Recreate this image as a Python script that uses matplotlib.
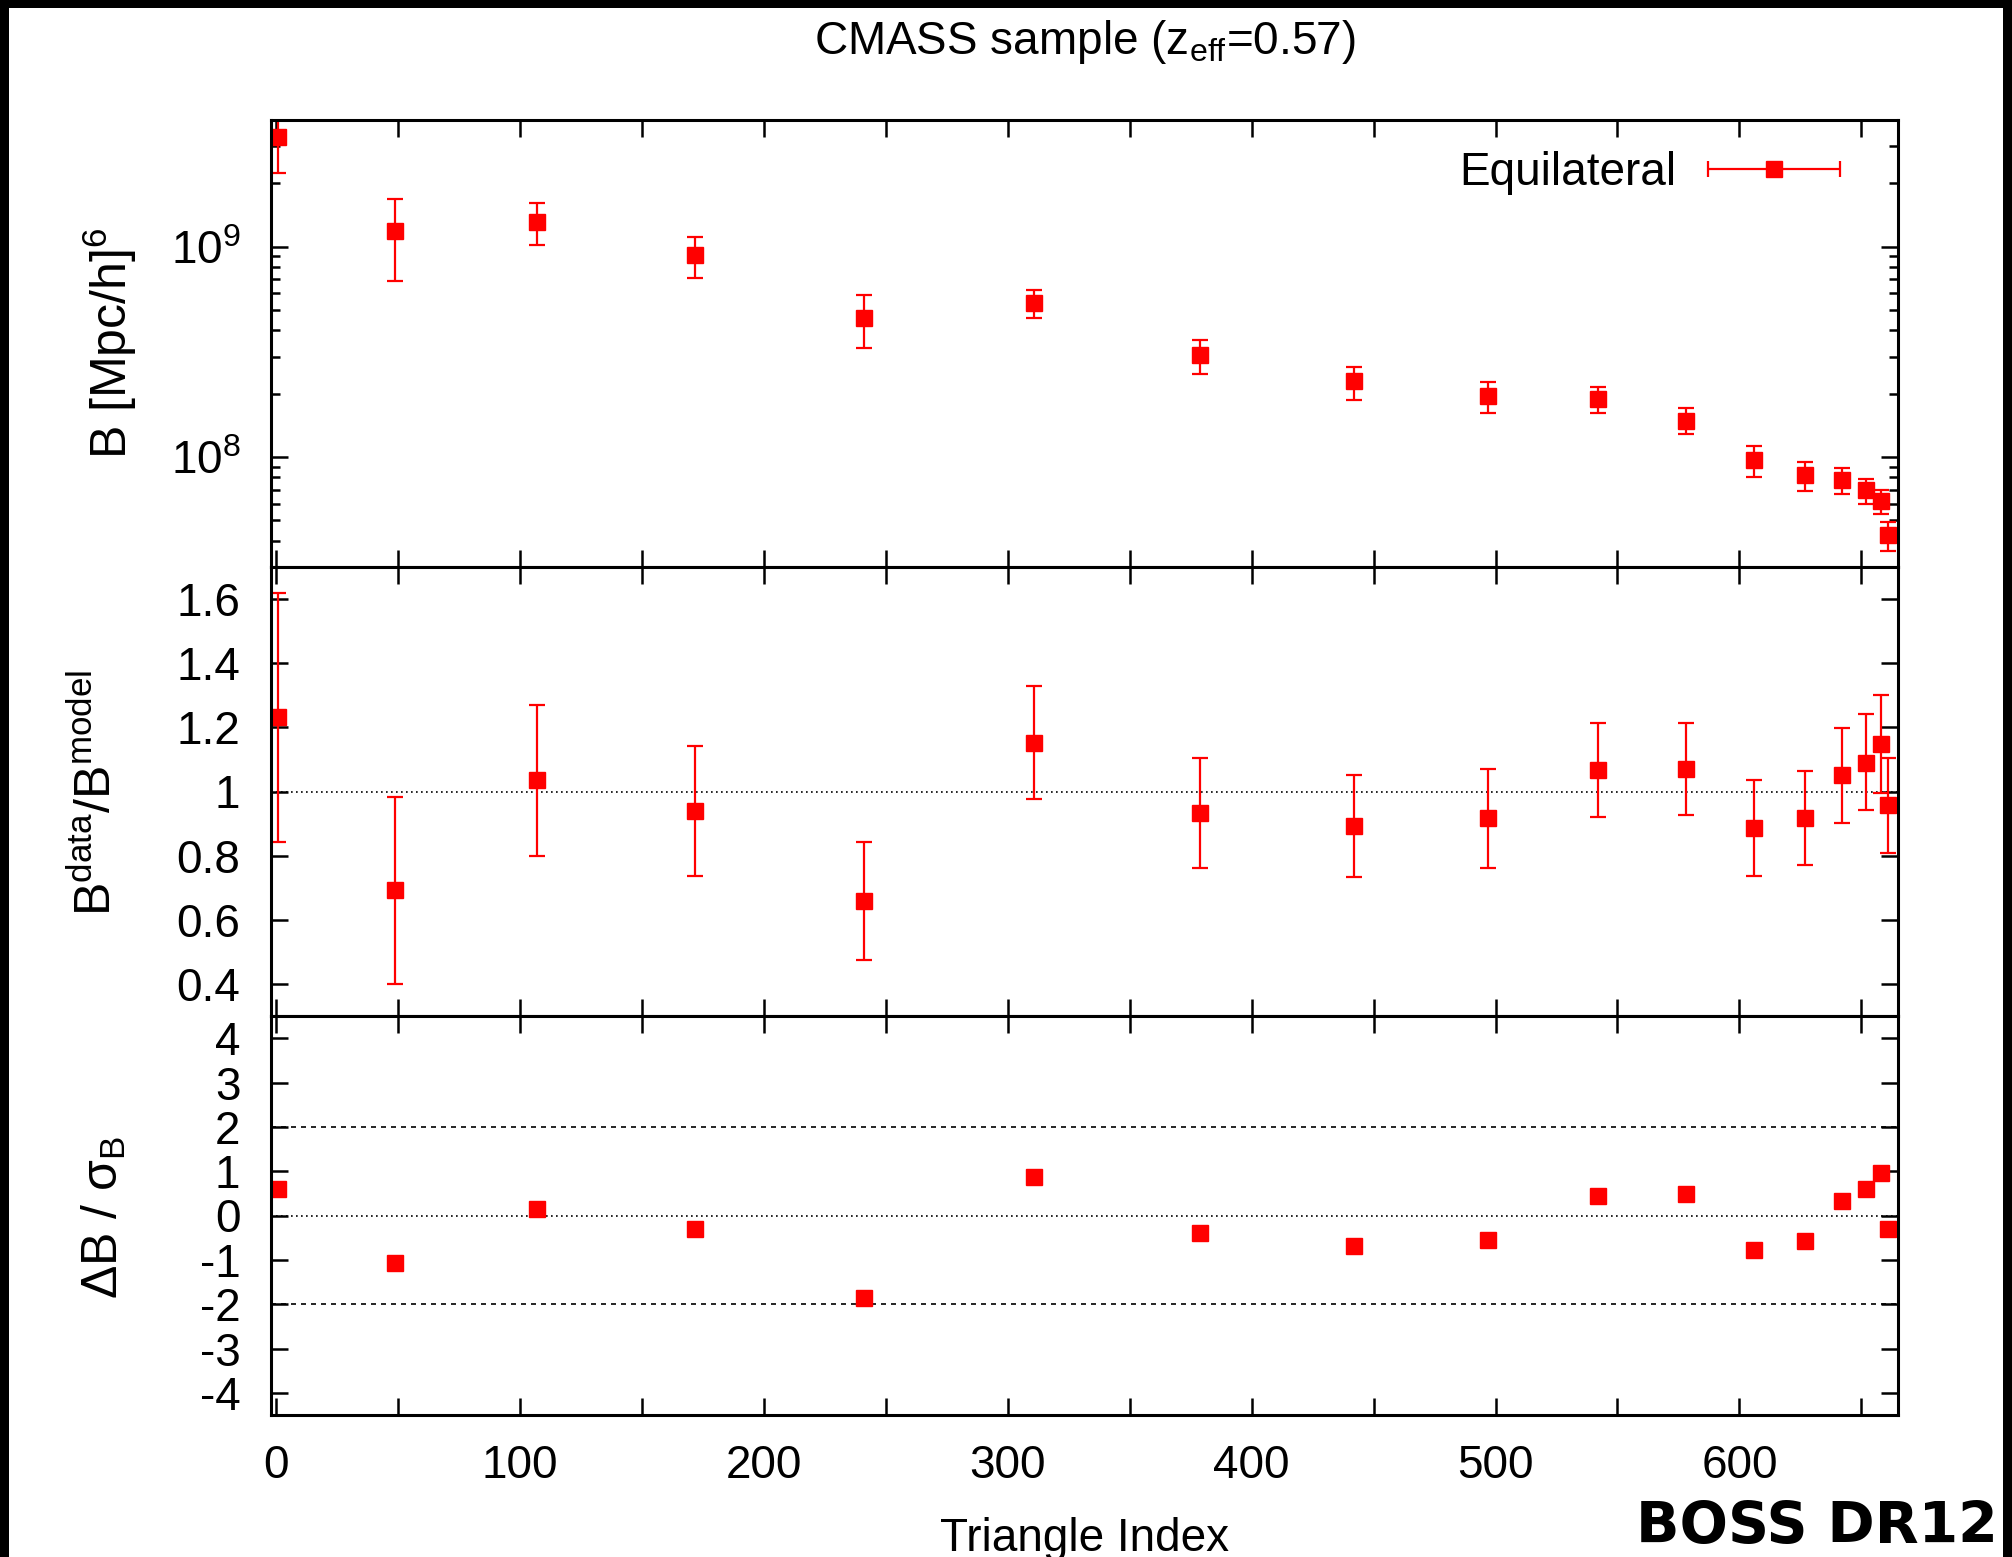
import numpy as np
import matplotlib
matplotlib.use("Agg")
import matplotlib.pyplot as plt
from matplotlib.ticker import LogLocator, NullFormatter, MultipleLocator, FuncFormatter
from matplotlib.legend_handler import HandlerErrorbar
from matplotlib.patches import Rectangle

plt.rcParams['font.family'] = ['Liberation Sans', 'DejaVu Sans']
plt.rcParams['mathtext.fontset'] = 'custom'
plt.rcParams['mathtext.rm'] = 'Liberation Sans'
plt.rcParams['mathtext.it'] = 'Liberation Sans:italic'
plt.rcParams['mathtext.bf'] = 'Liberation Sans:bold'
plt.rcParams['axes.unicode_minus'] = False

# ---------------- data ----------------
tri_index = [1, 49, 107, 172, 241, 311, 379, 442, 497, 542, 578, 606, 627, 642, 652, 658, 661]

bispec = [3.33e9, 1.19e9, 1.31e9, 9.08e8, 4.57e8, 5.39e8, 3.05e8, 2.30e8, 1.95e8,
          1.89e8, 1.49e8, 9.68e7, 8.2e7, 7.8e7, 7.0e7, 6.15e7, 4.26e7]
bispec_low = [2.25e9, 6.85e8, 1.02e9, 7.1e8, 3.30e8, 4.57e8, 2.49e8, 1.87e8, 1.62e8,
              1.62e8, 1.29e8, 8.0e7, 6.87e7, 6.7e7, 5.98e7, 5.36e7, 3.59e7]
bispec_high = [4.41e9, 1.69e9, 1.62e9, 1.11e9, 5.86e8, 6.21e8, 3.61e8, 2.69e8, 2.28e8,
               2.16e8, 1.71e8, 1.13e8, 9.5e7, 8.9e7, 7.87e7, 7.0e7, 4.89e7]

ratio = [1.233, 0.692, 1.037, 0.939, 0.660, 1.151, 0.932, 0.892, 0.917,
         1.067, 1.070, 0.885, 0.917, 1.051, 1.089, 1.148, 0.957]
ratio_low = [0.843, 0.400, 0.800, 0.735, 0.476, 0.978, 0.761, 0.732, 0.761,
             0.919, 0.926, 0.737, 0.770, 0.903, 0.942, 0.996, 0.809]
ratio_high = [1.620, 0.982, 1.271, 1.142, 0.843, 1.329, 1.105, 1.051, 1.069,
              1.213, 1.215, 1.036, 1.065, 1.197, 1.241, 1.300, 1.103]

residual = [0.60, -1.07, 0.14, -0.30, -1.86, 0.86, -0.39, -0.69, -0.55,
            0.44, 0.48, -0.77, -0.58, 0.33, 0.60, 0.96, -0.30]

series_label = "Equilateral"
title_text = "CMASS sample (z$_{\\mathregular{eff}}$=0.57)"
xlabel_text = "Triangle Index"
ylabels = ["B [Mpc/h]$^{6}$",
           "B$^{\\mathregular{data}}$/B$^{\\mathregular{model}}$",
           "\u0394B / \u03c3$_{\\mathregular{B}}$"]
brand_text = "BOSS DR12"

# ---------------- figure ----------------
W, H = 2012, 1557
fig = plt.figure(figsize=(W / 100, H / 100), dpi=100)
fig.patch.set_facecolor('white')

left = 271 / W
width = (1898 - 271) / W
ax1 = fig.add_axes([left, 1 - 567 / H, width, (567 - 120) / H])
ax2 = fig.add_axes([left, 1 - 1016 / H, width, (1016 - 567) / H])
ax3 = fig.add_axes([left, 1 - 1415 / H, width, (1415 - 1016) / H])

RED = '#ff0000'
TICKFS = 33
LABFS = 36
ebkw = dict(fmt='s', color=RED, ms=12, mec=RED, mfc=RED, elinewidth=1.6,
            capsize=6, capthick=1.6)

x = np.array(tri_index, dtype=float)

# top panel
b = np.array(bispec)
ax1.errorbar(x, b, yerr=[b - np.array(bispec_low), np.array(bispec_high) - b], **ebkw)
ax1.set_yscale('log')
ax1.set_ylim(3e7, 4e9)
ax1.yaxis.set_major_locator(LogLocator(base=10, numticks=10))
ax1.yaxis.set_minor_locator(LogLocator(base=10, subs=np.arange(2, 10), numticks=30))
ax1.yaxis.set_minor_formatter(NullFormatter())

# legend proxy (horizontal error bar key like the reference)
proxy = ax1.errorbar([np.nan], [np.nan], xerr=[1.0], label=series_label, **ebkw)
leg_fs = 33
ax1.legend(handles=[proxy], loc='center right', bbox_to_anchor=(0.9643, 0.8814),
           frameon=False, fontsize=leg_fs, markerfirst=False, numpoints=1,
           borderpad=0, borderaxespad=0, handlelength=2.88, handletextpad=0.68,
           handler_map={proxy: HandlerErrorbar(xerr_size=1.44)})

# middle panel
r = np.array(ratio)
ax2.axhline(1.0, color='black', lw=1.2, ls=(0, (1, 2)), zorder=1)
ax2.errorbar(x, r, yerr=[r - np.array(ratio_low), np.array(ratio_high) - r], **ebkw)
ax2.set_ylim(0.3, 1.7)
ax2.yaxis.set_major_locator(MultipleLocator(0.2))
ax2.yaxis.set_major_formatter(FuncFormatter(lambda v, p: '%g' % round(v, 2)))

# bottom panel
ax3.axhline(0.0, color='black', lw=1.2, ls=(0, (1, 2)), zorder=1)
ax3.axhline(2.0, color='black', lw=1.2, ls=(0, (3, 3)), zorder=1)
ax3.axhline(-2.0, color='black', lw=1.2, ls=(0, (3, 3)), zorder=1)
ax3.plot(x, residual, 's', color=RED, ms=12, mec=RED)
ax3.set_ylim(-4.5, 4.5)
ax3.yaxis.set_major_locator(MultipleLocator(1))
ax3.yaxis.set_major_formatter(FuncFormatter(lambda v, p: '%d' % round(v)))

for ax in (ax1, ax2, ax3):
    ax.set_xlim(-2, 665)
    ax.xaxis.set_major_locator(MultipleLocator(100))
    ax.xaxis.set_minor_locator(MultipleLocator(50))
    ax.tick_params(axis='both', which='both', direction='in', top=True, right=True,
                   width=1.8, colors='black', labelsize=TICKFS)
    ax.tick_params(axis='both', which='major', length=12)
    ax.tick_params(axis='y', which='minor', length=6.5)
    ax.tick_params(axis='x', which='minor', length=12)
    ax.tick_params(axis='y', which='major', pad=22)
    for s in ax.spines.values():
        s.set_linewidth(2.2)
    ax.set_facecolor('white')

ax1.tick_params(axis='x', labelbottom=False)
ax2.tick_params(axis='x', labelbottom=False)
ax3.tick_params(axis='x', which='major', pad=21)

# texts
cx = (271 + 1898) / 2 / W
fig.text(cx, 1 - 54 / H, title_text, ha='center', va='baseline', fontsize=33)
fig.text(cx, 1 - 1551 / H, xlabel_text, ha='center', va='baseline', fontsize=33)
fig.text(110 / W, 1 - 343 / H, ylabels[0], rotation=90, ha='center', va='center', fontsize=LABFS)
fig.text(96 / W, 1 - 793 / H, ylabels[1], rotation=90, ha='center', va='center', fontsize=LABFS)
fig.text(104 / W, 1 - 1217 / H, ylabels[2], rotation=90, ha='center', va='center', fontsize=LABFS)
fig.text(1998 / W, 1.5 / H, brand_text, ha='right', va='bottom', fontsize=41,
         fontweight='bold', family=['DejaVu Sans'])

# black frame (left, top, right)
fig.patches.append(Rectangle((0, 0), 9 / W, 1, transform=fig.transFigure,
                             facecolor='black', edgecolor='none', zorder=10))
fig.patches.append(Rectangle((0, 1 - 8 / H), 1, 8 / H, transform=fig.transFigure,
                             facecolor='black', edgecolor='none', zorder=10))
fig.patches.append(Rectangle((2003 / W, 0), 9 / W, 1, transform=fig.transFigure,
                             facecolor='black', edgecolor='none', zorder=10))

fig.savefig('out.png', dpi=100, facecolor='white')
